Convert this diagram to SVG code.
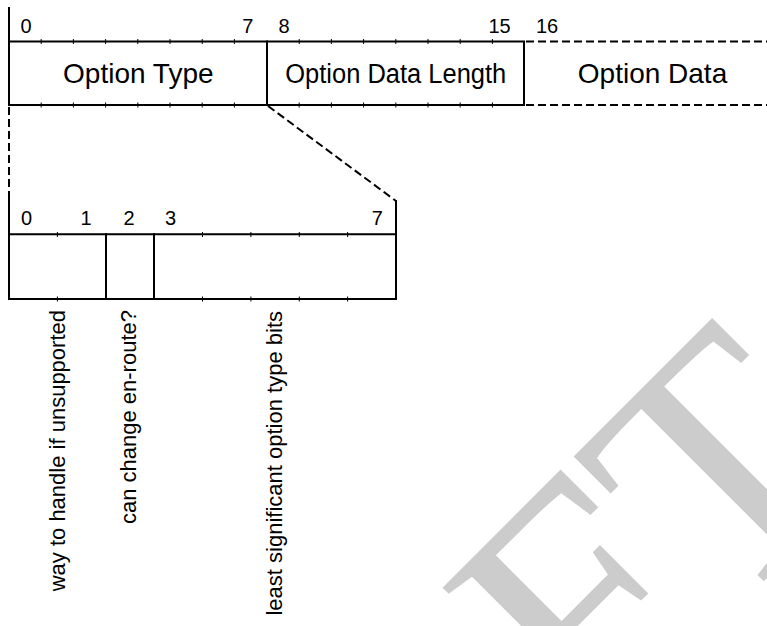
<svg xmlns="http://www.w3.org/2000/svg" width="767" height="626" viewBox="0 0 767 626">
<style>
.ln{stroke:#000;stroke-width:2;fill:none;stroke-linecap:square}
.dash{stroke:#000;stroke-width:2;fill:none;stroke-dasharray:8 4}
.tick{stroke:#000;stroke-width:1}
.num{font-family:"Liberation Sans",Arial,sans-serif;font-size:20px;fill:#000}
.name{font-family:"Liberation Sans",Arial,sans-serif;font-size:28px;fill:#000;text-anchor:middle}
.vl{font-family:"Liberation Sans",Arial,sans-serif;font-size:22px;fill:#000;text-anchor:end}
.wm{font-family:"Liberation Serif","Times New Roman",serif;font-size:340px;fill:#cccccc}
</style>
<rect width="767" height="626" fill="#fff"/>
<g id="watermark">
<text class="wm" transform="translate(593,752) rotate(-45)">FT</text>
</g>
<g id="option-type">
<path class="ln" d="M9,8 V105 M9,41.5 H267 M9,105 H267 M267,41.5 V105"/>
<path class="tick" d="M41.2,39 V44 M73.4,39 V44 M105.6,39 V44 M137.8,39 V44 M170,39 V44 M202.2,39 V44 M234.4,39 V44 M41.2,102.5 V107.5 M73.4,102.5 V107.5 M105.6,102.5 V107.5 M137.8,102.5 V107.5 M170,102.5 V107.5 M202.2,102.5 V107.5 M234.4,102.5 V107.5"/>
<text class="num" x="20.5" y="32.5">0</text>
<text class="num" x="242.3" y="32.5">7</text>
<text class="name" x="138.3" y="83.3">Option Type</text>
</g>
<g id="option-data-length">
<path class="ln" d="M267,41.5 H524 M267,105 H524 M524,41.5 V105"/>
<path class="tick" d="M299.2,39 V44 M331.4,39 V44 M363.6,39 V44 M395.8,39 V44 M428,39 V44 M460.2,39 V44 M492.4,39 V44 M299.2,102.5 V107.5 M331.4,102.5 V107.5 M363.6,102.5 V107.5 M395.8,102.5 V107.5 M428,102.5 V107.5 M460.2,102.5 V107.5 M492.4,102.5 V107.5"/>
<text class="num" x="278.4" y="32.5">8</text>
<text class="num" x="488.5" y="32.5">15</text>
<text class="name" x="395.8" y="83.3" textLength="221" lengthAdjust="spacingAndGlyphs" style="font-size:27px">Option Data Length</text>
</g>
<g id="option-data">
<path class="dash" d="M526,41.5 H767 M526,105 H767"/>
<text class="num" x="536" y="32.5">16</text>
<text class="name" x="652.5" y="83.3">Option Data</text>
</g>
<g id="connectors">
<path class="dash" d="M9,107 V200"/>
<path class="dash" d="M268,106 L396,201"/>
</g>
<g id="unsupported-bits">
<path class="ln" d="M9,200 V299 M9,234.3 H106 M9,299 H106 M106,234.3 V299"/>
<path class="tick" d="M57.4,232 V237 M57.4,296.5 V301.5"/>
<text class="num" x="21" y="225">0</text>
<text class="num" x="80.5" y="225">1</text>
<text class="vl" transform="translate(65,310) rotate(-90)">way to handle if unsupported</text>
</g>
<g id="change-bit">
<path class="ln" d="M106,234.3 H154 M106,299 H154 M154,234.3 V299"/>
<text class="num" x="123.4" y="225">2</text>
<text class="vl" transform="translate(136,310) rotate(-90)">can change en-route?</text>
</g>
<g id="type-bits">
<path class="ln" d="M154,234.3 H396 M154,299 H396 M396,201 V299"/>
<path class="tick" d="M202.5,232 V237 M250.9,232 V237 M299.3,232 V237 M347.6,232 V237 M202.5,296.5 V301.5 M250.9,296.5 V301.5 M299.3,296.5 V301.5 M347.6,296.5 V301.5"/>
<text class="num" x="165" y="225">3</text>
<text class="num" x="371.7" y="225">7</text>
<text class="vl" transform="translate(282,311) rotate(-90)">least significant option type bits</text>
</g>
</svg>
